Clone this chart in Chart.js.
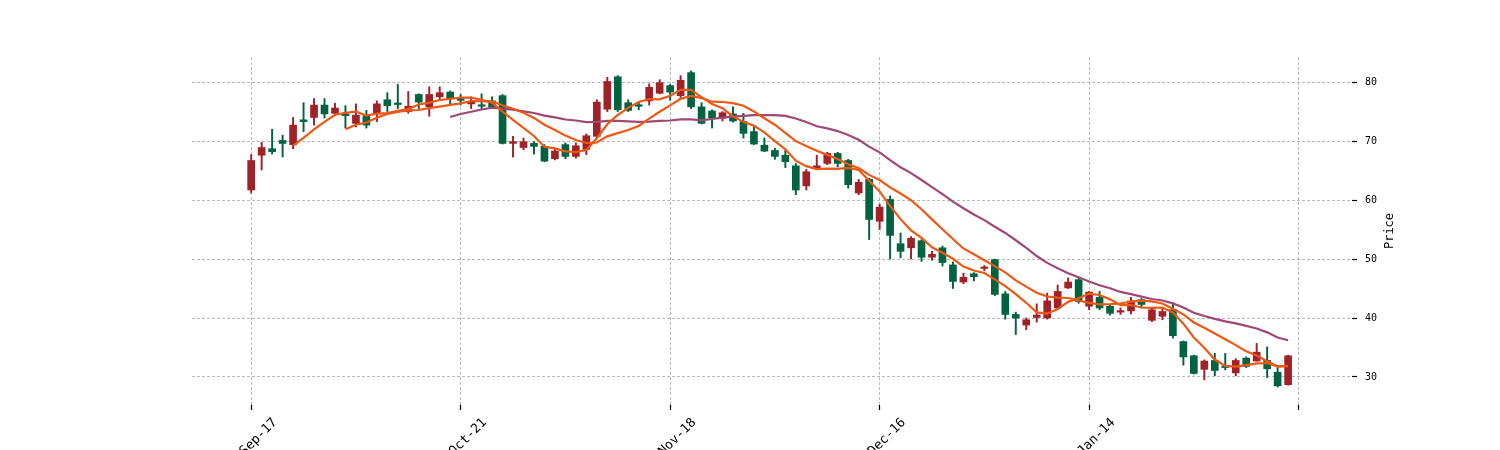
<!DOCTYPE html>
<html>
<head>
<meta charset="utf-8">
<title>Price</title>
<script src="https://cdn.jsdelivr.net/npm/chart.js@4.4.1/dist/chart.umd.min.js"></script>
<style>
  html, body { margin: 0; padding: 0; background: #ffffff; }
  #wrap { width: 1500px; height: 450px; }
</style>
</head>
<body>
<div id="wrap"><canvas id="priceChart" width="1500" height="450"></canvas></div>
<script>
// daily candles (red = close above open, green = close below)
var opens = [61.7, 67.6, 68.7, 70.1, 69.4, 73.6, 74.0, 76.1, 74.7, 74.6,
  73.0, 74.3, 74.6, 77.0, 76.4, 75.0, 77.9, 75.8, 77.5, 78.3,
  77.2, 76.3, 76.1, 76.8, 77.7, 69.6, 68.9, 69.6, 69.1, 67.0,
  69.4, 67.4, 68.6, 70.8, 75.4, 80.9, 76.5, 76.1, 76.8, 78.1,
  79.4, 77.7, 81.6, 75.8, 75.1, 73.9, 74.6, 73.3, 71.6, 69.3,
  68.4, 67.6, 65.8, 62.4, 65.4, 66.2, 67.9, 66.7, 61.2, 63.5,
  56.4, 60.1, 52.6, 51.9, 53.1, 50.3, 51.9, 49.0, 46.1, 47.5,
  48.4, 49.9, 44.1, 40.6, 38.8, 40.1, 40.0, 41.7, 45.1, 46.5,
  42.0, 43.5, 42.0, 41.0, 41.2, 43.1, 39.6, 40.3, 41.4, 36.0,
  33.6, 31.3, 32.8, 31.8, 30.7, 33.2, 32.7, 32.8, 30.8, 28.7];
var highs = [67.7, 69.8, 72.0, 71.0, 74.0, 76.5, 77.2, 77.2, 76.4, 76.0,
  76.3, 75.2, 76.8, 78.2, 79.6, 78.4, 78.0, 79.2, 79.2, 78.5,
  77.9, 77.5, 78.0, 77.5, 77.9, 70.8, 70.5, 69.9, 69.4, 68.7,
  69.7, 69.7, 71.2, 77.0, 80.8, 81.1, 77.0, 76.6, 79.7, 80.4,
  79.6, 81.1, 81.9, 76.5, 75.3, 75.0, 75.8, 74.7, 72.5, 70.5,
  68.8, 68.4, 66.2, 65.2, 67.6, 68.1, 68.1, 66.9, 63.5, 63.7,
  59.3, 60.7, 54.4, 53.8, 53.3, 51.3, 52.2, 49.5, 47.6, 47.7,
  48.9, 50.0, 44.5, 41.0, 40.0, 42.4, 44.2, 45.6, 46.8, 46.9,
  44.5, 44.5, 42.3, 41.7, 43.5, 43.3, 41.7, 41.6, 42.6, 36.1,
  33.7, 32.9, 34.0, 34.0, 33.1, 33.4, 35.7, 35.1, 31.6, 33.7];
var lows = [61.2, 65.1, 67.8, 67.3, 68.7, 71.6, 72.7, 73.9, 74.4, 72.2,
  72.4, 72.2, 73.3, 75.0, 75.5, 74.7, 75.5, 74.2, 76.9, 76.0,
  76.1, 75.5, 75.5, 75.5, 69.5, 67.3, 68.5, 67.8, 66.5, 66.8,
  67.0, 67.1, 67.7, 70.5, 75.0, 75.0, 75.0, 75.3, 76.1, 78.0,
  76.9, 77.2, 75.5, 72.9, 72.2, 73.4, 73.2, 70.5, 69.4, 68.2,
  66.9, 65.5, 60.9, 61.7, 65.2, 66.0, 65.6, 62.0, 60.9, 53.3,
  55.0, 50.0, 50.2, 50.0, 49.6, 49.8, 48.8, 45.0, 45.8, 46.3,
  48.0, 43.8, 39.8, 37.2, 38.0, 39.3, 39.8, 41.5, 45.0, 42.5,
  41.4, 41.4, 40.5, 40.6, 40.7, 41.7, 39.4, 39.7, 36.6, 32.0,
  30.5, 29.5, 30.2, 31.2, 30.2, 31.6, 32.7, 29.9, 28.3, 28.6];
var closes = [66.7, 68.9, 68.2, 69.6, 72.7, 73.3, 76.1, 74.6, 75.6, 74.3,
  74.4, 72.7, 76.3, 76.0, 76.2, 75.9, 76.6, 77.9, 78.2, 77.2,
  76.9, 76.7, 75.9, 75.8, 69.6, 69.9, 69.9, 69.1, 66.6, 68.3,
  67.4, 69.2, 70.9, 76.6, 80.1, 75.3, 75.2, 75.9, 79.1, 79.9,
  78.3, 80.3, 75.8, 73.0, 73.9, 74.8, 73.4, 71.3, 69.5, 68.3,
  67.4, 66.5, 61.7, 64.8, 65.8, 67.9, 66.2, 62.6, 63.0, 56.7,
  58.8, 54.0, 51.3, 53.5, 50.3, 50.8, 49.4, 46.2, 46.9, 47.0,
  48.6, 44.0, 40.6, 40.0, 39.7, 40.5, 42.9, 44.5, 46.1, 42.8,
  44.4, 41.7, 40.8, 41.2, 42.9, 42.3, 41.4, 41.1, 37.0, 33.4,
  30.6, 32.7, 31.1, 31.6, 32.8, 31.8, 34.2, 31.4, 28.5, 33.6];

var tickIndex = [0, 20, 40, 60, 80, 100];
var tickLabels = ["2019-Sep-17", "2019-Oct-21", "2019-Nov-18", "2019-Dec-16", "2020-Jan-14", ""];
var priceTicks = [30, 40, 50, 60, 70, 80];
var maPeriods = [5, 10, 20];

(function () {
  var upColor = "#a02128";
  var downColor = "#006340";
  var lineColors = ["#ef5714", "#ef5714", "#9f4878"];
  var gridColor = "#a8a8a8";
  var monoFamily = "'DejaVu Sans Mono', monospace";

  function candleColor(i) {
    return closes[i] >= opens[i] ? upColor : downColor;
  }

  function movingAverage(period) {
    var out = [];
    for (var i = period - 1; i < closes.length; i++) {
      var sum = 0;
      for (var k = i - period + 1; k <= i; k++) {
        sum += closes[k];
      }
      out.push({ x: i, y: sum / period });
    }
    return out;
  }

  var wicks = [];
  var bodies = [];
  var colors = [];
  for (var i = 0; i < closes.length; i++) {
    wicks.push({ x: i, y: [lows[i], highs[i]] });
    bodies.push({ x: i, y: [opens[i], closes[i]] });
    colors.push(candleColor(i));
  }

  var datasets = [];
  maPeriods.forEach(function (p, n) {
    datasets.push({
      type: "line",
      label: "MA" + p,
      data: movingAverage(p),
      borderColor: lineColors[n],
      borderWidth: 2.2,
      pointRadius: 0,
      tension: 0,
      fill: false,
      order: 1
    });
  });
  datasets.push({
    type: "bar",
    label: "body",
    data: bodies,
    backgroundColor: colors,
    barThickness: 7,
    minBarLength: 1.5,
    grouped: false,
    order: 2
  });
  datasets.push({
    type: "bar",
    label: "wick",
    data: wicks,
    backgroundColor: colors,
    barThickness: 1.3,
    grouped: false,
    order: 3
  });

  var axisTitle = {
    id: "axisTitle",
    afterDraw: function (chart) {
      var ctx = chart.ctx;
      var area = chart.chartArea;
      ctx.save();
      ctx.translate(area.right + 38, (area.top + area.bottom) / 2);
      ctx.rotate(-Math.PI / 2);
      ctx.font = "12px " + monoFamily;
      ctx.fillStyle = "#000000";
      ctx.textAlign = "center";
      ctx.textBaseline = "middle";
      ctx.fillText("Price", 0, 0);
      ctx.restore();
    }
  };

  new Chart(document.getElementById("priceChart"), {
    type: "bar",
    data: { datasets: datasets },
    plugins: [axisTitle],
    options: {
      responsive: false,
      animation: false,
      devicePixelRatio: 1,
      layout: { padding: { left: 192, top: 57, right: 0, bottom: 0 } },
      plugins: {
        legend: { display: false },
        tooltip: { enabled: false }
      },
      scales: {
        x: {
          type: "linear",
          min: -5.65,
          max: 105.1,
          offset: false,
          afterBuildTicks: function (scale) {
            scale.ticks = tickIndex.map(function (v) { return { value: v }; });
          },
          afterFit: function (scale) { scale.height = 45; },
          ticks: {
            autoSkip: false,
            minRotation: 45,
            maxRotation: 45,
            labelOffset: 24,
            padding: 5,
            color: "#000000",
            font: { family: monoFamily, size: 13 },
            callback: function (value) {
              var k = tickIndex.indexOf(value);
              return k >= 0 ? tickLabels[k] : "";
            }
          },
          grid: {
            offset: false,
            color: gridColor,
            lineWidth: 0.8,
            tickLength: 5,
            tickColor: "#000000",
            tickWidth: 1.2,
            tickBorderDash: []
          },
          border: { display: false, dash: [3, 2] }
        },
        y: {
          type: "linear",
          position: "right",
          min: 25.25,
          max: 84.25,
          afterBuildTicks: function (scale) {
            scale.ticks = priceTicks.map(function (v) { return { value: v }; });
          },
          afterFit: function (scale) { scale.width = 148; },
          ticks: {
            padding: 8,
            color: "#000000",
            font: { family: monoFamily, size: 10 }
          },
          grid: {
            color: gridColor,
            lineWidth: 0.8,
            tickLength: 5,
            tickColor: "#000000",
            tickWidth: 1.2,
            tickBorderDash: []
          },
          border: { display: false, dash: [3, 2] }
        }
      }
    }
  });
})();
</script>
</body>
</html>
